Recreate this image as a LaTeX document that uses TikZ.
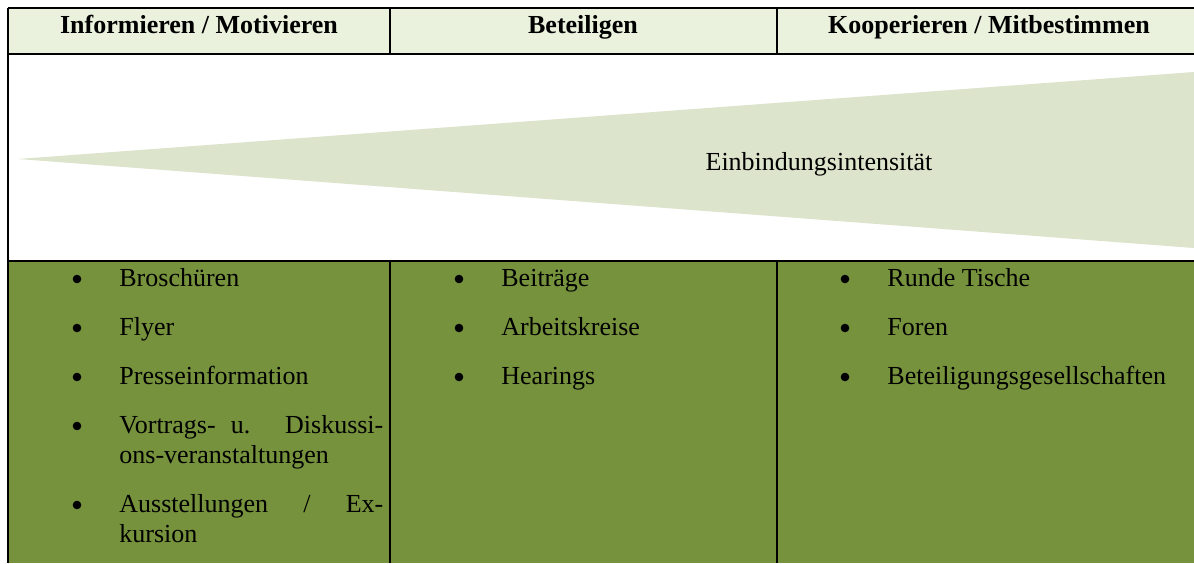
\documentclass[tikz,border=0pt]{standalone}
\usepackage{fontspec}
\setmainfont{Liberation Serif}
\usetikzlibrary{positioning}
\definecolor{headgreen}{HTML}{EAF1DD}
\definecolor{wedgegreen}{HTML}{DDE4CC}
\definecolor{olive}{HTML}{76923C}

\begin{document}
\begin{tikzpicture}[x=0.5pt, y=-0.5pt,
    head/.style={font=\fontsize{13}{15}\selectfont\bfseries, anchor=base, inner sep=0},
    entry/.style={font=\fontsize{13}{15}\selectfont, anchor=base west, inner sep=0},
    dot/.style={circle, fill=black, inner sep=0, minimum size=4.3pt, anchor=center, yshift=3.5pt},
    rule/.style={line width=1.3pt},
    divider/.style={line width=1pt}]
  \useasboundingbox (0,0) rectangle (1194,563);

  % cell fills and the wedge
  \fill[headgreen] (8,8) rectangle (1194,54);
  \fill[olive] (8,261) rectangle (1194,563);
  \fill[wedgegreen] (18,159) -- (1194,72) -- (1194,248) -- cycle;

  % grid
  \draw[rule] (8,8) -- (1194,8);
  \draw[rule] (8,54) -- (1194,54);
  \draw[rule] (8,261) -- (1194,261);
  \draw[rule] (8,8) -- (8,563);
  \draw[divider] (390,8) -- (390,54) (390,261) -- (390,563);
  \draw[divider] (777,8) -- (777,54) (777,261) -- (777,563);

  % header row
  \draw node[head] (hInfo) at (199,33) {Informieren / Motivieren};
  \draw node[head] (hBet) at (583,33) {Beteiligen};
  \draw node[head] (hKoop) at (989,33) {Kooperieren / Mitbestimmen};

  \draw node[entry, anchor=base] (intens) at (819,170) {Einbindungsintensität};

  % first column
  \draw node[entry] (i1) at (119,286) {Broschüren};
  \draw node[below=24.5pt of i1.base west, entry] (i2) {Flyer};
  \draw node[below=24.5pt of i2.base west, entry] (i3) {Presseinformation};
  \draw node[below=24.5pt of i3.base west, entry] (i4) {\makebox[132pt][s]{Vortrags- u. Diskussi-}};
  \draw node[below=15pt of i4.base west, entry] (i4b) {ons-veranstaltungen};
  \draw node[below=24.5pt of i4b.base west, entry] (i5) {\makebox[132pt][s]{Ausstellungen / Ex-}};
  \draw node[below=15pt of i5.base west, entry] (i5b) {kursion};

  % second column
  \draw node[entry] (b1) at (501,286) {Beiträge};
  \draw node[below=24.5pt of b1.base west, entry] (b2) {Arbeitskreise};
  \draw node[below=24.5pt of b2.base west, entry] (b3) {Hearings};

  % third column
  \draw node[entry] (k1) at (887,286) {Runde Tische};
  \draw node[below=24.5pt of k1.base west, entry] (k2) {Foren};
  \draw node[below=24.5pt of k2.base west, entry] (k3) {Beteiligungsgesellschaften};

  % bullets
  \foreach \n in {i1,i2,i3,i4,i5,b1,b2,b3,k1,k2,k3}
    \draw node[left=21pt of \n.base west, dot] {};
\end{tikzpicture}
\end{document}
